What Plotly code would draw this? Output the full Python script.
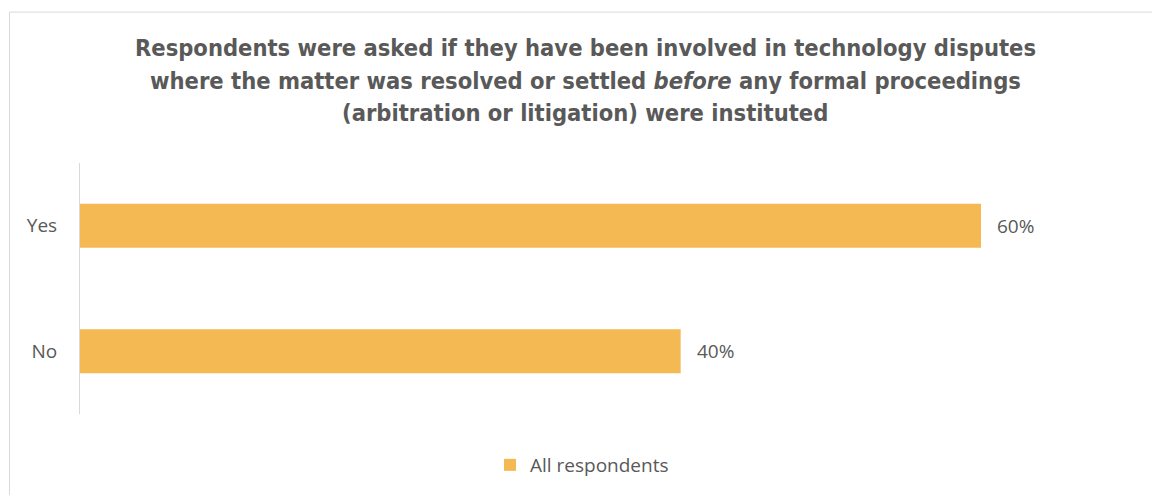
import plotly.graph_objects as go

# Survey responses
categories = ["Yes", "No"]
all_respondents = [0.60, 0.40]
series_name = "All respondents"

title_lines = [
    "Respondents were asked if they have been involved in technology disputes",
    "where the matter was resolved or settled <i>before</i> any formal proceedings",
    "(arbitration or litigation) were instituted",
]

bar_color = "#F4B953"
text_color = "#595959"
body_font = "Open Sans, sans-serif"
title_font = "Liberation Sans Narrow, DejaVu Sans Condensed, Arial Narrow, sans-serif"

fig = go.Figure()
fig.add_trace(go.Bar(
    y=categories,
    x=all_respondents,
    orientation="h",
    name=series_name,
    marker=dict(color=bar_color, line=dict(width=0)),
    width=0.35,
    showlegend=True,
    hoverinfo="skip",
))

# Value labels placed just past the end of each bar
for cat, val in zip(categories, all_respondents):
    fig.add_annotation(
        x=val, y=cat, xref="x", yref="y",
        text=f"{val:.0%}", showarrow=False,
        xanchor="left", yanchor="middle", xshift=14,
        font=dict(family=body_font, size=19, color=text_color),
    )

W, H = 1152, 495
L, R, T, B = 80, 42, 163, 80
pw, ph = W - L - R, H - T - B

def px_x(p):
    return (p - L) / pw

def px_y(p):
    return (H - B - p) / ph

# Multi-line chart heading
for line, cy in zip(title_lines, [48, 81, 113]):
    fig.add_annotation(
        x=px_x(585), y=px_y(cy), xref="paper", yref="paper",
        text=f"<b>{line}</b>", showarrow=False,
        xanchor="center", yanchor="middle",
        font=dict(family=title_font, size=23.5, color=text_color),
    )

# Chart frame
fig.add_shape(
    type="rect", xref="paper", yref="paper",
    x0=px_x(9.5), x1=px_x(W + 20), y0=px_y(11.5), y1=px_y(H + 20),
    line=dict(color="#D9D9D9", width=1), fillcolor="rgba(0,0,0,0)", layer="below",
)

fig.update_layout(
    width=W, height=H,
    margin=dict(l=L, r=R, t=T, b=B),
    paper_bgcolor="white", plot_bgcolor="white",
    xaxis=dict(range=[0, 0.6 * pw / 901], visible=False, fixedrange=True),
    yaxis=dict(
        autorange="reversed", showline=True, linecolor="#D9D9D9", linewidth=1,
        showgrid=False, zeroline=False, ticks="", ticklabelstandoff=18,
        tickfont=dict(family=body_font, size=19, color=text_color),
    ),
    legend=dict(
        orientation="h", x=px_x(582), xanchor="center", y=px_y(465), yanchor="middle",
        font=dict(family=body_font, size=19, color=text_color),
        itemwidth=30,
    ),
    bargap=0.65,
)

fig.write_html("out.html")
